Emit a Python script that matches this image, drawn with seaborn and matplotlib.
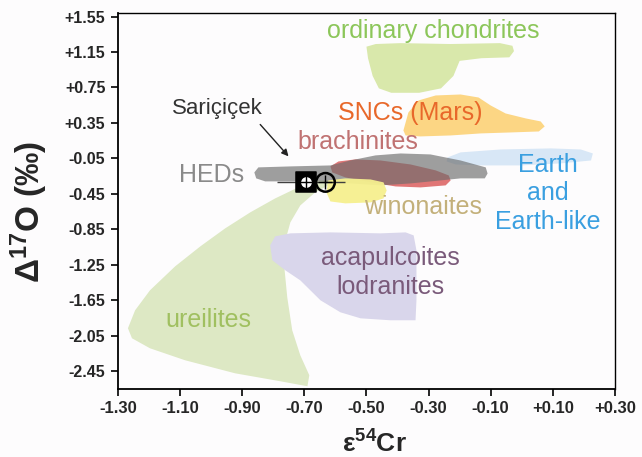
import matplotlib
matplotlib.use("Agg")
import matplotlib.pyplot as plt
import seaborn as sns
import pandas as pd

# ---- data (eps54Cr, D17O) outlines of each meteorite group ----
oc_x = [-0.50, -0.47, -0.39, -0.23, -0.07, -0.03, -0.025, -0.04, -0.13, -0.20, -0.22, -0.26, -0.33, -0.42, -0.46, -0.48, -0.495]
oc_y = [1.21, 1.24, 1.25, 1.24, 1.25, 1.22, 1.16, 1.09, 1.08, 1.05, 0.88, 0.74, 0.69, 0.69, 0.74, 0.88, 1.08]

snc_x = [-0.381, -0.365, -0.332, -0.277, -0.197, -0.139, -0.100, -0.052, 0.013, 0.061, 0.074, 0.055, -0.035, -0.132, -0.229, -0.326, -0.374]
snc_y = [0.265, 0.468, 0.604, 0.660, 0.671, 0.637, 0.547, 0.457, 0.401, 0.367, 0.311, 0.254, 0.243, 0.232, 0.209, 0.198, 0.209]

hed_x = [-0.861, -0.848, -0.745, -0.616, -0.552, -0.471, -0.390, -0.294, -0.197, -0.116, -0.110, -0.119, -0.197, -0.261, -0.358, -0.455, -0.552, -0.648, -0.745, -0.826, -0.855]
hed_y = [-0.208, -0.151, -0.140, -0.129, -0.073, -0.016, 0.006, -0.005, -0.073, -0.151, -0.220, -0.275, -0.275, -0.298, -0.332, -0.354, -0.332, -0.309, -0.309, -0.309, -0.275]

brach_x = [-0.616, -0.590, -0.535, -0.455, -0.358, -0.277, -0.235, -0.229, -0.245, -0.326, -0.406, -0.487, -0.568, -0.610]
brach_y = [-0.140, -0.084, -0.061, -0.073, -0.118, -0.185, -0.242, -0.298, -0.354, -0.377, -0.366, -0.320, -0.264, -0.208]

win_x = [-0.623, -0.568, -0.487, -0.445, -0.435, -0.445, -0.487, -0.568, -0.616, -0.629]
win_y = [-0.298, -0.275, -0.287, -0.320, -0.411, -0.501, -0.546, -0.557, -0.535, -0.433]

earth_x = [-0.239, -0.197, -0.068, 0.094, 0.190, 0.229, 0.223, 0.126, -0.003, -0.132, -0.213, -0.242]
earth_y = [-0.039, 0.018, 0.051, 0.063, 0.051, 0.006, -0.073, -0.106, -0.129, -0.129, -0.118, -0.084]

acap_x = [-0.810, -0.794, -0.745, -0.616, -0.455, -0.374, -0.348, -0.339, -0.339, -0.342, -0.423, -0.519, -0.584, -0.648, -0.713, -0.761, -0.803]
acap_y = [-1.030, -0.929, -0.895, -0.884, -0.895, -0.884, -0.918, -1.087, -1.650, -1.875, -1.875, -1.853, -1.785, -1.650, -1.425, -1.312, -1.199]

ure_x = [-0.600, -0.655, -0.713, -0.794, -0.874, -0.955, -1.035, -1.116, -1.197, -1.245, -1.268, -1.255, -1.197, -1.084, -0.923, -0.777, -0.690, -0.684, -0.713, -0.739, -0.755, -0.765, -0.761, -0.745, -0.713, -0.665, -0.623]
ure_y = [-0.298, -0.298, -0.365, -0.501, -0.658, -0.839, -1.042, -1.267, -1.537, -1.763, -1.965, -2.078, -2.191, -2.326, -2.473, -2.563, -2.619, -2.495, -2.270, -1.988, -1.616, -1.256, -0.974, -0.771, -0.580, -0.433, -0.354]

# Saricicek and related point
pt_names = ["Sariçiçek", "other"]
pt_x = [-0.694, -0.632]
pt_y = [-0.320, -0.320]
err_lo = [-0.787]
err_hi = [-0.568]

xticks = [-1.30, -1.10, -0.90, -0.70, -0.50, -0.30, -0.10, 0.10, 0.30]
xtick_labels = ["-1.30", "-1.10", "-0.90", "-0.70", "-0.50", "-0.30", "-0.10", "+0.10", "+0.30"]
yticks = [-2.45, -2.05, -1.65, -1.25, -0.85, -0.45, -0.05, 0.35, 0.75, 1.15, 1.55]
ytick_labels = ["-2.45", "-2.05", "-1.65", "-1.25", "-0.85", "-0.45", "-0.05", "+0.35", "+0.75", "+1.15", "+1.55"]

sns.set_theme(style="ticks")
plt.rcParams['font.family'] = ['Liberation Sans', 'DejaVu Sans']
plt.rcParams['mathtext.fontset'] = 'custom'
plt.rcParams['mathtext.rm'] = 'Liberation Sans'
plt.rcParams['mathtext.bf'] = 'Liberation Sans:bold'
plt.rcParams['mathtext.it'] = 'Liberation Sans:italic'

fig = plt.figure(figsize=(6.42, 4.57), dpi=100)
fig.patch.set_facecolor("#fdfcfd")
ax = fig.add_axes([0.1838, 0.1488, 0.774, 0.8228])
ax.set_facecolor("#fdfcfd")

regions = [
    (ure_x, ure_y, "#dde8c4", 1.0, 1),
    (acap_x, acap_y, "#d9d6eb", 1.0, 1),
    (oc_x, oc_y, "#d9e8ab", 1.0, 1),
    (snc_x, snc_y, "#fcd684", 1.0, 1),
    (earth_x, earth_y, "#d8e7f6", 1.0, 1),
    (brach_x, brach_y, "#e07676", 1.0, 1.2),
    (hed_x, hed_y, "#6c6c6c", 0.65, 1.3),
    (win_x, win_y, "#f6f08e", 0.95, 1.4),
]
for xs, ys, c, a, z in regions:
    ax.fill(xs, ys, color=c, alpha=a, lw=0, zorder=z)

# error bar line
ax.hlines(pt_y[0], err_lo[0], err_hi[0], color="#404040", lw=1.0, zorder=3)

df = pd.DataFrame({"name": pt_names, "x": pt_x, "y": pt_y})
sns.scatterplot(data=df.iloc[[0]], x="x", y="y", marker="s", s=190, color="black",
                edgecolor="black", ax=ax, zorder=4, legend=False)
ax.scatter(pt_x[:1], pt_y[:1], marker="o", s=80, facecolor="white", edgecolor="black", lw=1.2, zorder=5)
sns.scatterplot(data=df.iloc[[1]], x="x", y="y", marker="o", s=180, color="none",
                edgecolor="black", linewidth=1.8, ax=ax, zorder=4, legend=False)
ax.scatter(pt_x, pt_y, marker="+", s=90, color="black", lw=1.0, zorder=6)

fs = 18
ax.text(-0.284, 1.392, "ordinary chondrites", color="#8cc65a", fontsize=fs, ha="center", va="center")
ax.text(-0.358, 0.457, "SNCs (Mars)", color="#e8682a", fontsize=fs, ha="center", va="center")
ax.text(-0.526, 0.130, "brachinites", color="#c07272", fontsize=fs, ha="center", va="center")
ax.text(-1.000, -0.242, "HEDs", color="#8a8a8a", fontsize=fs, ha="center", va="center")
ax.text(-0.319, -0.602, "winonaites", color="#c3b07a", fontsize=fs, ha="center", va="center")
ax.text(0.084, -0.444, "Earth\nand\nEarth-like", color="#3a9fe0", fontsize=fs, ha="center", va="center",
        linespacing=1.25)
ax.text(-0.423, -1.334, "acapulcoites\nlodranites", color="#7a5a7a", fontsize=fs, ha="center", va="center",
        linespacing=1.25)
ax.text(-1.010, -1.875, "ureilites", color="#a0c060", fontsize=fs, ha="center", va="center")
ax.text(-0.981, 0.513, "Sariçiçek", color="#333333", fontsize=16, ha="center", va="center")
ax.annotate("", xy=(-0.745, -0.050), xytext=(-0.848, 0.356),
            arrowprops=dict(arrowstyle="-|>", color="#222222", lw=1.0, mutation_scale=10))

ax.set_xlim(-1.30, 0.30)
ax.set_ylim(-2.65, 1.59)
ax.set_xticks(xticks)
ax.set_xticklabels(xtick_labels, fontsize=12, fontweight="bold")
ax.set_yticks(yticks)
ax.set_yticklabels(ytick_labels, fontsize=11.5, fontweight="bold")
ax.tick_params(direction="out", length=5, width=1.2, color="black", pad=4)

for s in ax.spines.values():
    s.set_visible(True)
    s.set_color("black")
    s.set_linewidth(1.3)
ax.spines["right"].set_linewidth(1.0)
ax.spines["top"].set_linewidth(1.0)

ax.set_xlabel("ε$^{\\mathbf{54}}$Cr", fontsize=19, fontweight="bold")
ax.xaxis.set_label_coords(0.517, -0.109)
ax.set_ylabel("Δ$^{\\mathbf{17}}$O (‰)", fontsize=24, fontweight="bold")
ax.yaxis.set_label_coords(-0.137, 0.471)

fig.savefig("out.png", dpi=100, facecolor=fig.get_facecolor())
